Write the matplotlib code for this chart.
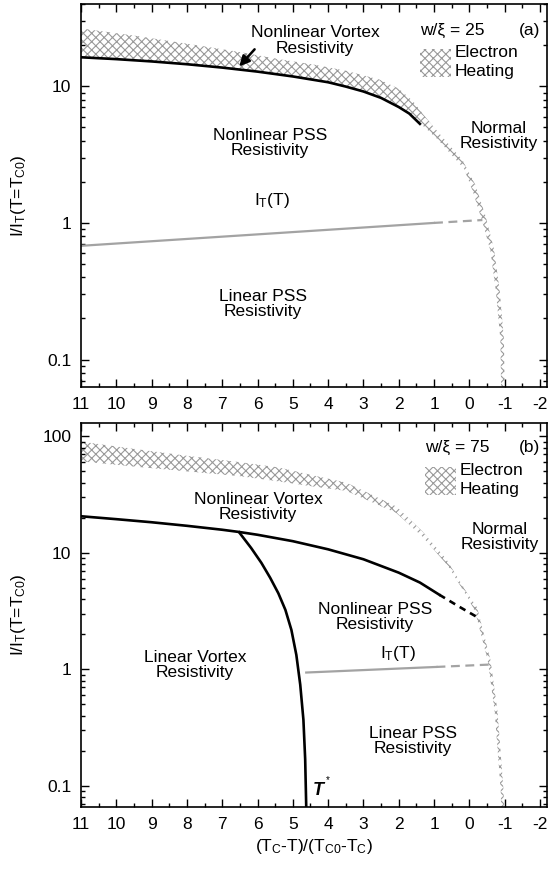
import matplotlib
matplotlib.use('Agg')
import matplotlib.pyplot as plt
from matplotlib.patches import Rectangle, Polygon
from matplotlib.ticker import MultipleLocator, LogLocator, FuncFormatter, NullFormatter
import numpy as np

plt.rcParams['font.family'] = ['Liberation Sans', 'DejaVu Sans']
plt.rcParams['mathtext.fontset'] = 'custom'
plt.rcParams['mathtext.rm'] = 'Liberation Sans'
plt.rcParams['mathtext.it'] = 'Liberation Sans:italic'
plt.rcParams['hatch.linewidth'] = 0.8
plt.rcParams['font.size'] = 12.5
plt.rcParams['axes.unicode_minus'] = False

# ---- panel (a): w/xi = 25 ----
a_vortex_x = [11, 10, 9, 8, 7, 6, 5, 4, 3.5, 3, 2.5, 2, 1.7, 1.4]
a_vortex_y = [16.3, 15.8, 15.2, 14.5, 13.7, 12.8, 11.8, 10.7, 9.95, 9.16, 8.22, 7.05, 6.31, 5.31]

a_heat_hi_x = [11, 9.5, 8, 6.5, 5.4, 4.4, 3.5, 2.55, 2.0, 1.6, 1.3, 1.0, 0.6, 0.2, -0.17, -0.47, -0.7, -0.86, -0.98, -1.0]
a_heat_hi_y = [26.5, 23.5, 20.5, 17.8, 15.8, 14.4, 13.0, 11.2, 9.6, 7.8, 6.2, 5.0, 3.8, 2.9, 1.9, 1.1, 0.64, 0.32, 0.14, 0.06]
a_heat_lo_x = [11, 9.5, 8, 6.5, 5.4, 4.4, 3.5, 2.55, 2.0, 1.6, 1.3, 0.9, 0.53, 0.15, -0.1, -0.38, -0.6, -0.75, -0.88, -0.9]
a_heat_lo_y = [16.3, 15.5, 14.5, 13.25, 12.2, 11.1, 9.95, 8.3, 7.05, 6.0, 5.1, 4.1, 3.2, 2.5, 1.7, 1.0, 0.62, 0.32, 0.14, 0.06]

a_it_x = [11, 1.0]
a_it_y = [0.68, 1.0]
a_it_dash_x = [1.0, -0.37]
a_it_dash_y = [1.0, 1.05]

# ---- panel (b): w/xi = 75 ----
b_vortex_x = [11, 10, 9, 8, 7, 6.5, 6, 5, 4, 3, 2, 1.4, 0.85]
b_vortex_y = [20.6, 19.45, 18.3, 17.06, 15.78, 15.07, 14.29, 12.59, 10.72, 8.81, 6.76, 5.56, 4.37]
b_vortex_dash_x = [0.85, 0.3, -0.23]
b_vortex_dash_y = [4.37, 3.47, 2.8]

b_tstar_x = [6.52, 6.18, 5.89, 5.64, 5.41, 5.21, 5.04, 4.90, 4.79, 4.70, 4.65, 4.62]
b_tstar_y = [15.0, 11.0, 8.2, 6.1, 4.5, 3.24, 2.18, 1.33, 0.74, 0.37, 0.17, 0.066]

b_heat_hi_x = [11, 9.5, 8, 6.5, 5.4, 4.4, 3.48, 2.07, 1.33, 0.65, 0.08, -0.22, -0.6, -0.8, -0.97, -0.98]
b_heat_hi_y = [90, 78, 68, 60, 54, 46, 40, 25, 15.3, 8.8, 4.6, 3.4, 1.2, 0.43, 0.09, 0.066]
b_heat_lo_x = [11, 9.5, 8, 6.5, 5.4, 4.4, 3.48, 2.07, 1.33, 0.6, 0.02, -0.17, -0.52, -0.72, -0.89, -0.9]
b_heat_lo_y = [61, 55, 50, 45.5, 41, 37, 34, 22, 13.8, 7.7, 4.0, 3.1, 1.2, 0.43, 0.09, 0.066]

b_it_x = [4.62, 0.93]
b_it_y = [0.94, 1.05]
b_it_dash_x = [0.93, -0.57]
b_it_dash_y = [1.05, 1.1]

xticks = [11, 10, 9, 8, 7, 6, 5, 4, 3, 2, 1, 0, -1, -2]

W, H = 553, 873
fig = plt.figure(figsize=(W / 100, H / 100), dpi=100)
ax1 = fig.add_axes([81 / W, 1 - 387 / H, 466 / W, 383 / H])
ax2 = fig.add_axes([81 / W, 1 - 807 / H, 466 / W, 384 / H])

hatch_col = '#999999'
it_col = '#a3a3a3'
hatch = 'xxxx'


def band(ax, hx, hy, lx, ly):
    pts = list(zip(hx, hy)) + list(zip(lx[::-1], ly[::-1]))
    p = Polygon(pts, closed=True, facecolor='none', edgecolor=hatch_col,
                linewidth=0, hatch=hatch)
    ax.add_patch(p)


def style(ax, ylim):
    ax.set_yscale('log')
    ax.set_xlim(11, -2.2)
    ax.set_ylim(*ylim)
    ax.set_xticks(xticks)
    ax.xaxis.set_minor_locator(MultipleLocator(0.5))
    ax.yaxis.set_major_locator(LogLocator(base=10))
    ax.yaxis.set_minor_locator(LogLocator(base=10, subs=np.arange(2, 10)))
    ax.yaxis.set_major_formatter(FuncFormatter(lambda v, p: '%g' % v))
    ax.yaxis.set_minor_formatter(NullFormatter())
    ax.tick_params(which='both', direction='in', top=True, right=True, labelsize=12.5)
    ax.tick_params(which='major', length=6, width=1, pad=7)
    ax.tick_params(which='minor', length=3, width=1)
    for s in ax.spines.values():
        s.set_linewidth(1.2)
    ax.set_ylabel('I/I$_{\\rm T}$(T=T$_{\\rm C0}$)', fontsize=12.5)
    ax.yaxis.set_label_coords(-0.114, 0.5)


def legend_box(ax, label, tag, x0, y0):
    ax.text(x0, y0, label, transform=ax.transAxes, ha='left', va='center')
    ax.text(0.985, y0, tag, transform=ax.transAxes, ha='right', va='center')
    r = Rectangle((x0, y0 - 0.122), 0.066, 0.072, transform=ax.transAxes,
                  facecolor='none', edgecolor=hatch_col, linewidth=0, hatch=hatch)
    ax.add_patch(r)
    ax.text(x0 + 0.074, y0 - 0.059, 'Electron', transform=ax.transAxes,
            ha='left', va='center')
    ax.text(x0 + 0.074, y0 - 0.109, 'Heating', transform=ax.transAxes,
            ha='left', va='center')


def label(ax, x, y, s):
    ax.text(x, y, s, transform=ax.transAxes, ha='center', va='center',
            linespacing=1.05)


# panel (a)
style(ax1, (0.063, 40))
band(ax1, a_heat_hi_x, a_heat_hi_y, a_heat_lo_x, a_heat_lo_y)
ax1.plot(a_vortex_x, a_vortex_y, color='black', lw=1.9)
ax1.plot(a_it_x, a_it_y, color=it_col, lw=1.6)
ax1.plot(a_it_dash_x, a_it_dash_y, color=it_col, lw=1.6, ls=(0, (4, 2.5)))
ax1.annotate('', xy=(6.57, 13.5), xytext=(6.03, 19.3),
             arrowprops=dict(arrowstyle='-|>', color='black', lw=1.8, mutation_scale=15))
label(ax1, 0.502, 0.905, 'Nonlinear Vortex\nResistivity')
label(ax1, 0.406, 0.637, 'Nonlinear PSS\nResistivity')
label(ax1, 0.41, 0.486, 'I$_{\\rm T}$(T)')
label(ax1, 0.39, 0.217, 'Linear PSS\nResistivity')
label(ax1, 0.897, 0.655, 'Normal\nResistivity')
legend_box(ax1, 'w/\u03be = 25', '(a)', 0.727, 0.932)

# panel (b)
style(ax2, (0.066, 130))
band(ax2, b_heat_hi_x, b_heat_hi_y, b_heat_lo_x, b_heat_lo_y)
ax2.plot(b_vortex_x, b_vortex_y, color='black', lw=1.9)
ax2.plot(b_vortex_dash_x, b_vortex_dash_y, color='black', lw=1.9, ls=(0, (2.5, 2)))
ax2.plot(b_tstar_x, b_tstar_y, color='black', lw=1.9)
ax2.plot(b_it_x, b_it_y, color=it_col, lw=1.6)
ax2.plot(b_it_dash_x, b_it_dash_y, color=it_col, lw=1.6, ls=(0, (4, 2.5)))
label(ax2, 0.38, 0.781, 'Nonlinear Vortex\nResistivity')
label(ax2, 0.631, 0.495, 'Nonlinear PSS\nResistivity')
label(ax2, 0.68, 0.401, 'I$_{\\rm T}$(T)')
label(ax2, 0.712, 0.172, 'Linear PSS\nResistivity')
label(ax2, 0.245, 0.37, 'Linear Vortex\nResistivity')
label(ax2, 0.899, 0.703, 'Normal\nResistivity')
ax2.text(0.497, 0.044, 'T', transform=ax2.transAxes, ha='left', va='center',
         fontsize=13, fontweight='bold', style='italic')
ax2.text(0.525, 0.07, '*', transform=ax2.transAxes, ha='left', va='center', fontsize=7)
legend_box(ax2, 'w/\u03be = 75', '(b)', 0.738, 0.935)
ax2.set_xlabel('(T$_{\\rm C}$-T)/(T$_{\\rm C0}$-T$_{\\rm C}$)', fontsize=12.5)
ax2.xaxis.set_label_coords(0.5, -0.078)

fig.savefig('out.png', dpi=100)
